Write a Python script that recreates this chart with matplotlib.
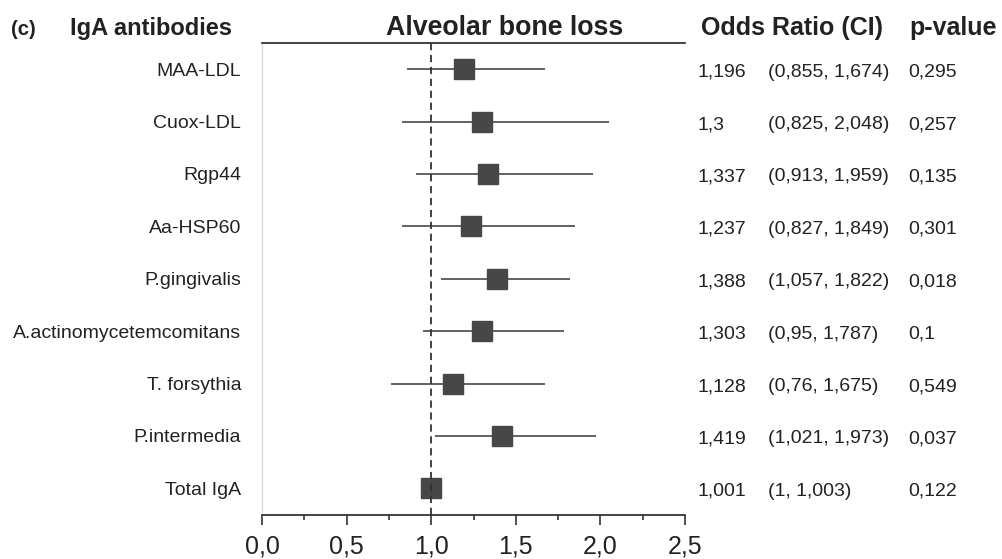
import numpy as np
import matplotlib
matplotlib.use("Agg")
import matplotlib.pyplot as plt
import matplotlib.transforms as mtransforms

plt.rcParams['font.family'] = ['Liberation Sans', 'DejaVu Sans']

antibodies = ["MAA-LDL", "Cuox-LDL", "Rgp44", "Aa-HSP60", "P.gingivalis",
              "A.actinomycetemcomitans", "T. forsythia", "P.intermedia", "Total IgA"]
odds_ratio = [1.196, 1.3, 1.337, 1.237, 1.388, 1.303, 1.128, 1.419, 1.001]
ci_low = [0.855, 0.825, 0.913, 0.827, 1.057, 0.95, 0.76, 1.021, 1.0]
ci_high = [1.674, 2.048, 1.959, 1.849, 1.822, 1.787, 1.675, 1.973, 1.003]
p_values = [0.295, 0.257, 0.135, 0.301, 0.018, 0.1, 0.549, 0.037, 0.122]
xticks = [0.0, 0.5, 1.0, 1.5, 2.0, 2.5]
xtick_labels = ["0,0", "0,5", "1,0", "1,5", "2,0", "2,5"]

txt = "#222222"
mark = "#474747"

def fmt(v):
    return f"{v:g}".replace(".", ",")

fig = plt.figure(figsize=(10.03, 5.59), dpi=100)
ax = fig.add_axes([0.2612, 0.0787, 0.4218, 0.8444])

rows = np.arange(len(antibodies))
ax.hlines(rows, ci_low, ci_high, color="#555555", lw=1.3, zorder=2)
ax.plot(odds_ratio, rows, ls="none", marker="s", ms=14.4, color=mark,
        mec=mark, zorder=3)
ax.axvline(1.0, color="#333333", lw=1.3, ls=(0, (4, 2.6)), zorder=4)

ax.set_xlim(0, 2.5)
ax.set_ylim(8.51, -0.5)
ax.set_xticks(xticks)
ax.set_xticklabels(xtick_labels, fontsize=18, color=txt)
ax.set_xticks(np.arange(0.25, 2.5, 0.5), minor=True)
ax.tick_params(axis="x", which="major", direction="out", length=7.2, width=1.1,
               pad=7, color="#222222")
ax.tick_params(axis="x", which="minor", direction="out", length=3.6, width=1.1,
               color="#222222")

ax.set_yticks(rows)
ax.set_yticklabels(antibodies, fontsize=14, color=txt)
ax.tick_params(axis="y", length=0, pad=15)

ax.spines["right"].set_visible(False)
ax.spines["top"].set_linewidth(1.2)
ax.spines["top"].set_color("#222222")
ax.spines["bottom"].set_linewidth(1.2)
ax.spines["bottom"].set_color("#222222")
ax.spines["left"].set_color("#dddddd")
ax.spines["left"].set_linewidth(1.0)

# table columns on the right, baseline shifted so digits sit centred on the row
tr = mtransforms.blended_transform_factory(fig.transFigure, ax.transData)
tr = tr + mtransforms.ScaledTranslation(0, -0.075, fig.dpi_scale_trans)
for i in rows:
    ax.text(0.695, i, fmt(odds_ratio[i]), transform=tr, fontsize=14,
            color=txt, va="baseline", ha="left")
    ax.text(0.7657, i, "(" + fmt(ci_low[i]) + ", " + fmt(ci_high[i]) + ")",
            transform=tr, fontsize=14, color=txt, va="baseline", ha="left")
    ax.text(0.9053, i, fmt(p_values[i]), transform=tr, fontsize=14,
            color=txt, va="baseline", ha="left")

# headers
hy = 1 - 35 / 559
fig.text(0.011, hy, "(c)", fontsize=14.7, fontweight="bold", color=txt, va="baseline")
fig.text(0.0698, hy, "IgA antibodies", fontsize=17, fontweight="bold", color=txt,
         va="baseline")
fig.text(0.5035, hy, "Alveolar bone loss", fontsize=19.3, fontweight="bold",
         color=txt, va="baseline", ha="center")
fig.text(0.699, hy, "Odds Ratio (CI)", fontsize=18, fontweight="bold", color=txt,
         va="baseline")
fig.text(0.907, hy, "p-value", fontsize=18, fontweight="bold", color=txt,
         va="baseline")

fig.savefig("out.png", dpi=100)
